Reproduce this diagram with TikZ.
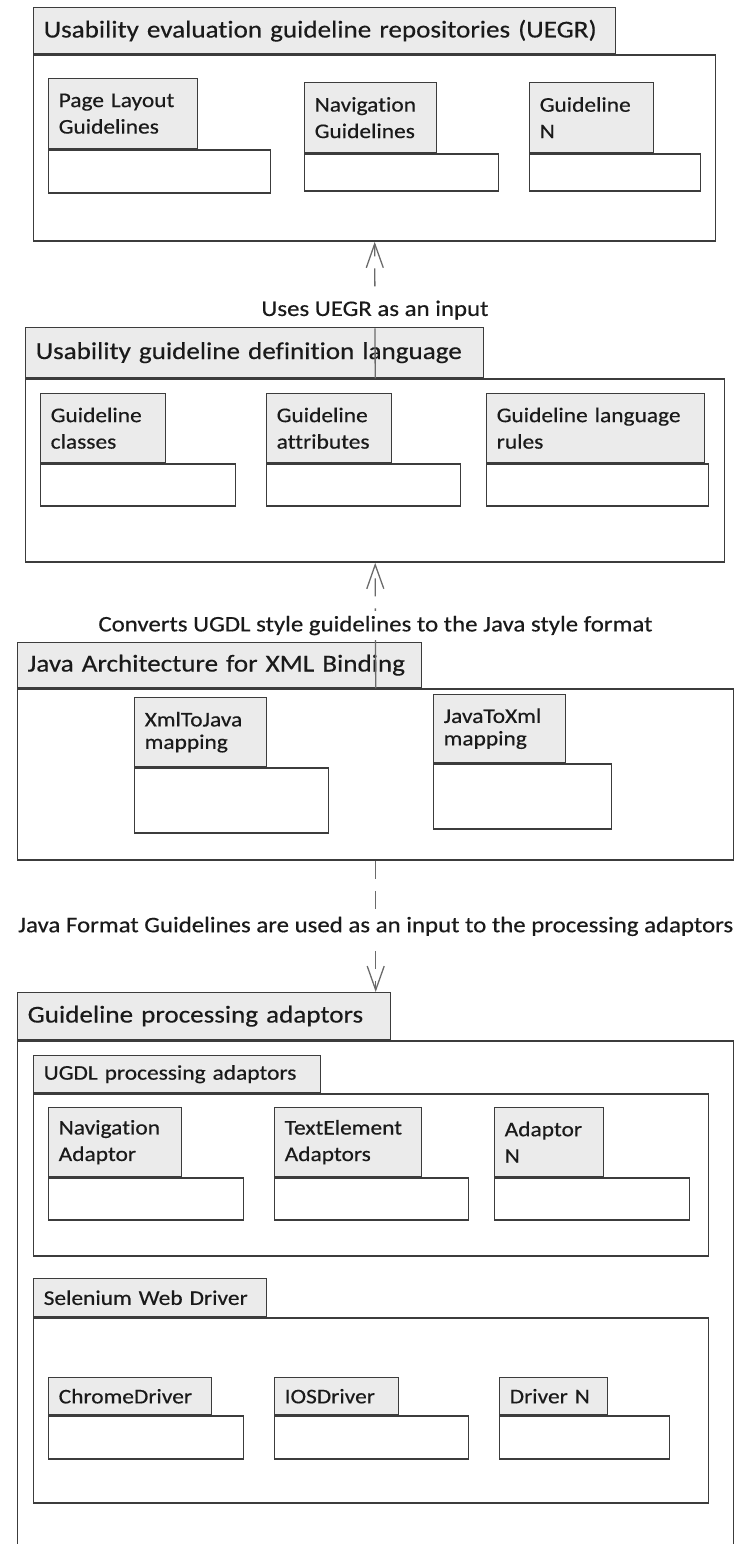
\documentclass[tikz,border=0pt]{standalone}
\usepackage{fontspec}
\setmainfont{Carlito}[FakeStretch=1.12, FakeBold=0.4, Ligatures={NoCommon,NoContextual}]
\usetikzlibrary{arrows.meta}
\definecolor{tabgray}{HTML}{EBEBEB}
\definecolor{edge}{HTML}{3C3C3C}
\definecolor{ink}{HTML}{1A1A1A}
\definecolor{wire}{HTML}{6A6A6A}

\tikzset{
  pkgline/.style={draw=edge, line width=1.4pt},
  tabbox/.style={pkgline, fill=tabgray, rectangle, inner xsep=10pt, inner ysep=0pt,
                 anchor=north west, align=left, text=ink},
  bodybox/.style={pkgline, fill=white, rectangle, inner sep=0pt, anchor=north west},
  dep/.style={draw=wire, line width=1.3pt, dash pattern=on 18pt off 12pt,
              -{Straight Barb[length=24pt,width=17pt]}},
  deplong/.style={dep, dash pattern=on 50pt off 12pt on 18pt off 12pt on 18pt off 12pt},
  note/.style={fill=white, inner xsep=2pt, inner ysep=5pt, text=ink,
               font=\fontsize{22.2}{24}\selectfont},
  bigf/.style={font=\fontsize{24.2}{27}\selectfont},
  midf/.style={font=\fontsize{20.9}{24}\selectfont},
  smallf/.style={font=\fontsize{20.9}{26.5}\selectfont},
  tightf/.style={font=\fontsize{20.9}{22.5}\selectfont},
}

% package = tab with its name + body below it
% #1 name, #2 x, #3 y of tab top, #4 tab width, #5 tab height,
% #6 body width, #7 body height, #8 font style, #9 text
\newcommand\pkgpart[9]{%
  \pgfmathsetmacro\pkgtw{#4-20}%
  \node[tabbox, #8, minimum width=#4pt, minimum height=#5pt, text width=\pkgtw pt]
    (#1-tab) at (#2,#3) {#9};
  \node[bodybox, minimum width=#6pt, minimum height=#7pt] (#1) at (#1-tab.south west) {};
}

\begin{document}
\begin{tikzpicture}[x=1pt, y=-1pt]
\useasboundingbox (0,0) rectangle (738,1544);
\clip (0,0) rectangle (738,1544);

% Usability evaluation guideline repositories
\pkgpart{uegr}{33}{7}{582}{46}{682}{186}{bigf}{Usability evaluation guideline repositories (UEGR)}
\pkgpart{pl}{48}{78}{149}{70}{222}{43}{smallf}{Page Layout\\Guidelines}
\pkgpart{nav}{304}{82}{132}{70}{194}{37}{smallf}{Navigation\\Guidelines}
\pkgpart{gn}{529}{82}{124}{70}{171}{37}{smallf}{Guideline\\N}

% Usability guideline definition language
\pkgpart{ugdl}{25}{327}{458}{50}{699}{183}{bigf}{Usability guideline definition language}
\pkgpart{gc}{40}{393}{125}{69}{195}{42}{smallf}{Guideline\\classes}
\pkgpart{ga}{266}{393}{125}{69}{194}{42}{smallf}{Guideline\\attributes}
\pkgpart{glr}{486}{393}{218}{69}{222}{42}{smallf}{Guideline language\\rules}

% JAXB
\pkgpart{jaxb}{17}{642}{404}{45}{716}{171}{bigf}{Java Architecture for XML Binding}
\pkgpart{xj}{134}{697}{132}{69}{194}{65}{tightf}{XmlToJava\\mapping}
\pkgpart{jx}{433}{694}{132}{68}{178}{65}{tightf}{JavaToXml\\mapping}

% Guideline processing adaptors
\pkgpart{gpa}{17}{992}{373}{47}{716}{530}{bigf}{Guideline processing adaptors}
\pkgpart{upa}{33}{1055}{287}{37}{675}{162}{midf}{UGDL processing adaptors}
\pkgpart{na}{48}{1107}{133}{69}{195}{42}{smallf}{Navigation\\Adaptor}
\pkgpart{te}{274}{1107}{147}{69}{194}{42}{smallf}{TextElement\\Adaptors}
\pkgpart{an}{494}{1107}{109}{69}{195}{42}{smallf}{Adaptor\\N}
\pkgpart{swd}{33}{1278}{233}{38}{675}{185}{midf}{Selenium Web Driver}
\pkgpart{cd}{48}{1377}{163}{37}{195}{43}{smallf}{ChromeDriver}
\pkgpart{ios}{274}{1377}{124}{37}{194}{43}{smallf}{IOSDriver}
\pkgpart{dn}{499}{1377}{108}{37}{170}{43}{smallf}{Driver N}

% dependencies
\draw[deplong] (ugdl.north) -- node[note] {Uses UEGR as an input} (uegr.south);
\draw[deplong] (jaxb.north) -- node[note] {Converts UGDL style guidelines to the Java style format} (ugdl.south);
\draw[dep] (jaxb.south) -- node[note] {Java Format Guidelines are used as an input to the processing adaptors} (jaxb.south |- gpa-tab.north);
\end{tikzpicture}
\end{document}
